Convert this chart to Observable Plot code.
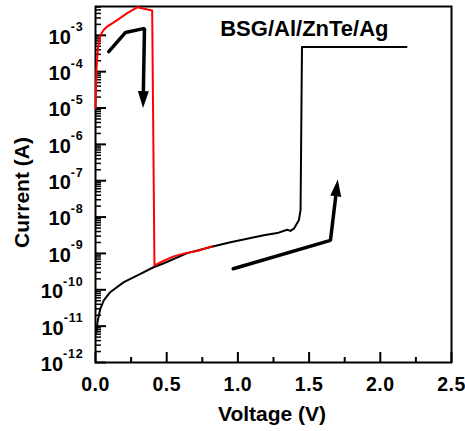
<!DOCTYPE html>
<html>
<head>
<meta charset="utf-8">
<script src="https://cdn.jsdelivr.net/npm/d3@7"></script>
<script src="https://cdn.jsdelivr.net/npm/@observablehq/plot@0.6"></script>
<style>
html, body { margin: 0; padding: 0; background: #fff; }
</style>
</head>
<body>
<div id="chart"></div>
<script>
// ---- data ----
const chartTitle = "BSG/Al/ZnTe/Ag";
const xLabel = "Voltage (V)";
const yLabel = "Current (A)";

// black branch (sweep up, low-resistance switch at ~1.45 V)
const blackV = [0.007, 0.014, 0.023, 0.035, 0.058, 0.105, 0.199, 0.316, 0.407, 0.48, 0.644, 0.831, 0.948, 1.182, 1.276, 1.346, 1.369, 1.393, 1.428, 1.44, 1.450, 2.184];
const blackI = [6.76e-12, 1.26e-11, 1.95e-11, 3.09e-11, 5.13e-11, 8.71e-11, 1.62e-10, 2.75e-10, 4.17e-10, 5.37e-10, 1.02e-9, 1.58e-9, 2.04e-9, 3.16e-9, 3.63e-9, 4.47e-9, 4.17e-9, 4.79e-9, 8.13e-9, 1.55e-8, 4.79e-4, 4.79e-4];

// red branch (high current, reset at ~0.4 V)
const redV = [0, 0.003, 0.006, 0.010, 0.019, 0.035, 0.060, 0.082, 0.152, 0.223, 0.293, 0.398, 0.414, 0.48, 0.55, 0.632, 0.714, 0.82];
const redI = [9.8e-6, 3.5e-5, 9.0e-5, 1.9e-4, 4.9e-4, 1.02e-3, 1.45e-3, 1.74e-3, 2.63e-3, 4.07e-3, 5.89e-3, 4.79e-3, 4.68e-10, 6.31e-10, 8.32e-10, 1.02e-9, 1.17e-9, 1.58e-9];

// annotation arrows (path points, last point = base of arrowhead)
const arrow1V = [0.093, 0.211, 0.344, 0.336];
const arrow1I = [3.55e-4, 1.2e-3, 1.55e-3, 2.75e-5];
const arrow2V = [0.967, 1.650, 1.688];
const arrow2I = [3.8e-10, 2.29e-9, 3.98e-8];

// axes
const xDomain = [0, 2.5];
const yDomain = [1e-12, 6.2e-3];
const xMajor = [0, 0.5, 1, 1.5, 2, 2.5];
const xMinor = [0.25, 0.75, 1.25, 1.75, 2.25];
const xTickLabels = ["0.0", "0.5", "1.0", "1.5", "2.0", "2.5"];
const yExponents = [-12, -11, -10, -9, -8, -7, -6, -5, -4, -3];
const yTickLabels = ["10^-12", "10^-11", "10^-10", "10^-9", "10^-8", "10^-7", "10^-6", "10^-5", "10^-4", "10^-3"];

// ---- build ----
const W = 465, H = 431;
const mL = 95, mR = 14, mT = 6, mB = 69;
const fw = W - mL - mR, fh = H - mT - mB;

const black = blackV.map((v, i) => ({V: v, I: blackI[i]}));
const red = redV.map((v, i) => ({V: v, I: redI[i]}));
const arrow1 = arrow1V.map((v, i) => ({V: v, I: arrow1I[i]}));
const arrow2 = arrow2V.map((v, i) => ({V: v, I: arrow2I[i]}));

const yMajor = yExponents.map(e => Math.pow(10, e));
const yMinor = [];
for (const e of yExponents) for (let k = 2; k <= 9; k++) {
  const v = k * Math.pow(10, e);
  if (v < yDomain[1]) yMinor.push(v);
}
const xLabelOf = new Map(xMajor.map((v, i) => [v, xTickLabels[i]]));
const yLabelOf = new Map(yExponents.map((e, i) => [e, yTickLabels[i]]));

function arrowHead(color) {
  const m = d3.create("svg:marker")
    .attr("viewBox", "0 -6 18 12")
    .attr("markerWidth", 18).attr("markerHeight", 12)
    .attr("markerUnits", "userSpaceOnUse")
    .attr("refX", 1).attr("refY", 0)
    .attr("orient", "auto");
  m.append("path").attr("d", "M0,-5.5L17,0L0,5.5Z").attr("fill", color).attr("stroke", "none");
  return m.node();
}

const plot = Plot.plot({
  width: W, height: H,
  marginLeft: mL, marginRight: mR, marginTop: mT, marginBottom: mB,
  style: {fontFamily: '"Liberation Sans", Arial, sans-serif', fontWeight: "bold", background: "#fff", color: "#000"},
  x: {domain: xDomain, label: null},
  y: {type: "log", domain: yDomain, label: null},
  marks: [
    Plot.tickY(yMajor, {y: d => d, insetRight: fw - 11, strokeWidth: 2}),
    Plot.tickY(yMinor, {y: d => d, insetRight: fw - 6, strokeWidth: 1.5}),
    Plot.tickX(xMajor, {x: d => d, insetTop: fh - 10, strokeWidth: 2}),
    Plot.tickX(xMinor, {x: d => d, insetTop: fh - 5, strokeWidth: 2}),
    Plot.frame({stroke: "black", strokeWidth: 2}),
    Plot.axisX(xMajor, {tickSize: 0, tickPadding: 15, fontSize: 19.5, tickFormat: d => xLabelOf.get(d), label: null}),
    Plot.axisY(yMajor, {tickSize: 0, tickPadding: 12, fontSize: 20, dy: 2, tickFormat: d => yLabelOf.get(Math.round(Math.log10(d))), label: null}),
    Plot.line(black, {x: "V", y: "I", stroke: "black", strokeWidth: 2}),
    Plot.line(red, {x: "V", y: "I", stroke: "#f00", strokeWidth: 2}),
    Plot.line(arrow1, {x: "V", y: "I", stroke: "black", strokeWidth: 3.5, strokeLinejoin: "miter", markerEnd: arrowHead}),
    Plot.line(arrow2, {x: "V", y: "I", stroke: "black", strokeWidth: 3.5, strokeLinejoin: "miter", markerEnd: arrowHead}),
    Plot.text([chartTitle], {frameAnchor: "top-right", dx: -63, dy: 22, textAnchor: "end", lineAnchor: "middle", fontSize: 22, ariaLabel: "title"}),
    Plot.text([xLabel], {frameAnchor: "bottom", dx: -1.5, dy: 52, lineAnchor: "middle", fontSize: 21, ariaLabel: "xlabel"}),
    Plot.text([yLabel], {frameAnchor: "left", dx: -73, dy: 8, rotate: -90, lineAnchor: "middle", textAnchor: "middle", fontSize: 21, ariaLabel: "ylabel"})
  ]
});

document.getElementById("chart").appendChild(plot);
const svg = plot.tagName.toLowerCase() === "svg" ? plot : plot.querySelector("svg");

// superscript exponents on y tick labels
svg.querySelectorAll('g[aria-label="y-axis tick label"] text').forEach(t => {
  const parts = t.textContent.split("^");
  if (parts.length !== 2) return;
  t.textContent = parts[0];
  const ts = document.createElementNS("http://www.w3.org/2000/svg", "tspan");
  ts.setAttribute("dy", "-12.5");
  ts.setAttribute("font-size", "12.5");
  ts.setAttribute("letter-spacing", "0.8");
  ts.textContent = parts[1];
  t.appendChild(ts);
});
// slight horizontal widening as in the reference
svg.querySelectorAll('g[aria-label="title"] text').forEach(t => t.setAttribute("letter-spacing", "1.5"));
svg.querySelectorAll('g[aria-label="xlabel"] text, g[aria-label="ylabel"] text').forEach(t => t.setAttribute("letter-spacing", "1.7"));
svg.querySelectorAll('g[aria-label="x-axis tick label"] text').forEach(t => t.setAttribute("letter-spacing", "0.5"));
</script>
</body>
</html>
